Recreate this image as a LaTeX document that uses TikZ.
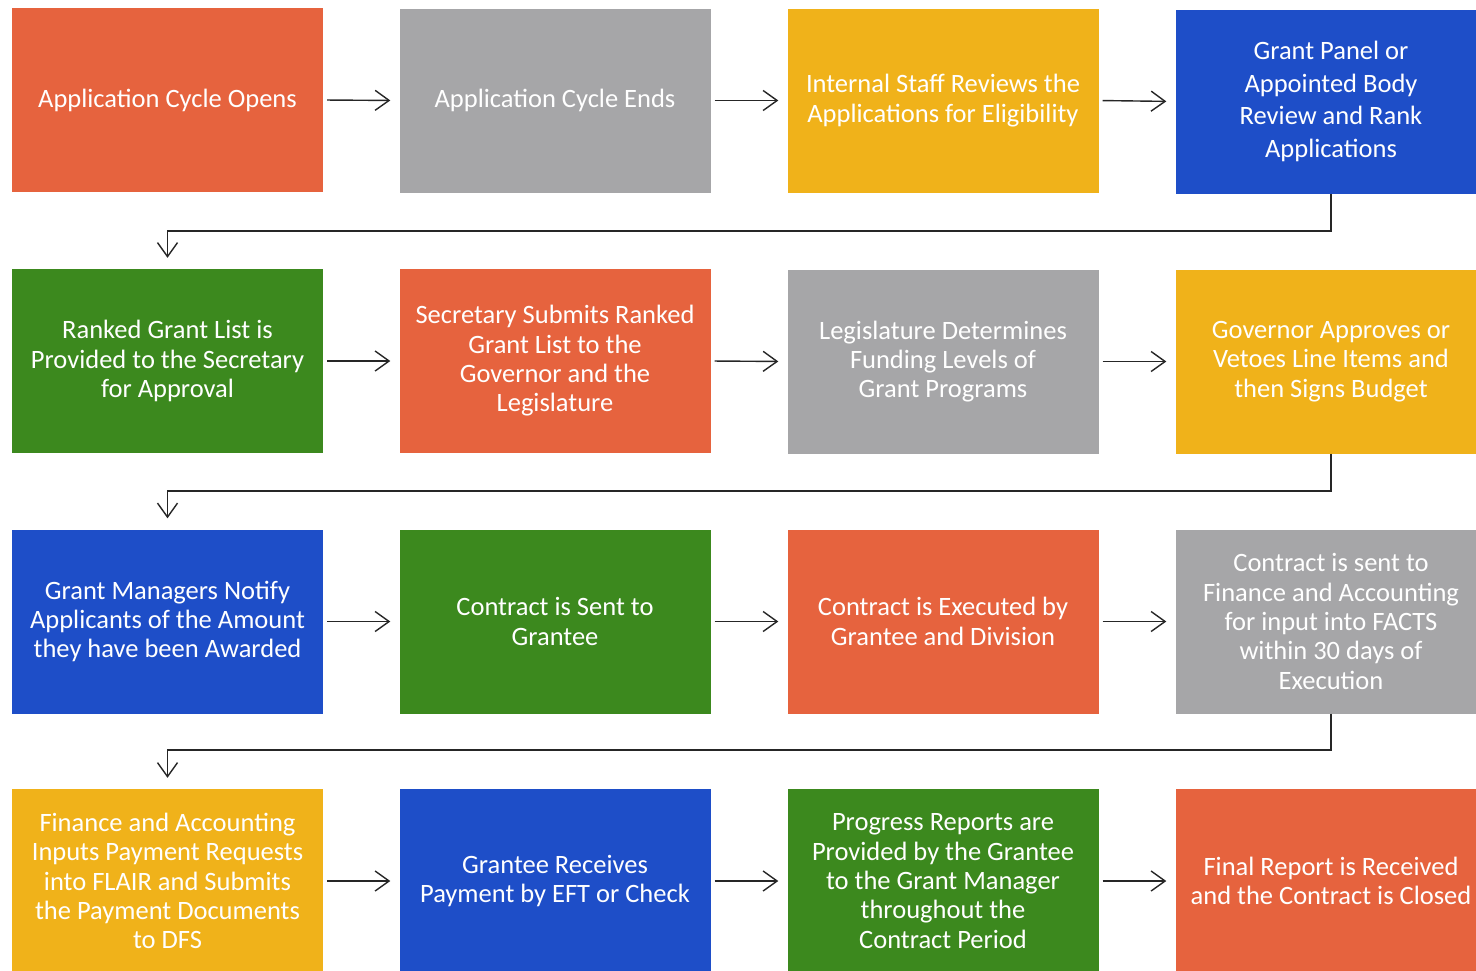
\documentclass[tikz,border=0pt]{standalone}
\usepackage{fontspec}
\setmainfont{Carlito}
\usetikzlibrary{arrows.meta}
\definecolor{cOrange}{RGB}{230,99,62}
\definecolor{cGray}{RGB}{166,166,168}
\definecolor{cGold}{RGB}{240,178,26}
\definecolor{cBlue}{RGB}{30,78,200}
\definecolor{cGreen}{RGB}{60,137,30}
\tikzset{
  box/.style={rectangle, minimum width=311pt, minimum height=184pt, inner sep=0pt,
    text=white, align=center, font=\fontsize{26.5}{29.3}\selectfont},
  arr/.style={draw=black!85, line width=1.4pt, -{Straight Barb[length=14pt,width=20pt,line width=1.4pt]},
    shorten <=4pt, shorten >=9pt},
  conn/.style={draw=black!85, line width=1.4pt, -{Straight Barb[length=14pt,width=20pt,line width=1.4pt]},
    shorten >=11pt}
}
\begin{document}
\begin{tikzpicture}[x=1pt,y=-1pt]
\useasboundingbox (0,0) rectangle (1476,970);
\clip (0,0) rectangle (1476,970);
\fill[white] (0,0) rectangle (1476,970);
% row 1
\node[box, fill=cOrange] (a1) at (167.5,100) {Application Cycle Opens};
\node[box, fill=cGray] (a2) at (555,100.5) {Application Cycle Ends};
\node[box, fill=cGold] (a3) at (943,100.5) {Internal Staff Reviews the\\Applications for Eligibility};
\node[box, fill=cBlue, font=\fontsize{26.5}{32.7}\selectfont] (a4) at (1331,101.5) {Grant Panel or\\Appointed Body\\Review and Rank\\Applications};
% row 2
\node[box, fill=cGreen] (b1) at (167.5,361) {Ranked Grant List is\\Provided to the Secretary\\for Approval};
\node[box, fill=cOrange] (b2) at (555,361) {Secretary Submits Ranked\\Grant List to the\\Governor and the\\Legislature};
\node[box, fill=cGray] (b3) at (943,361.5) {Legislature Determines\\Funding Levels of\\Grant Programs};
\node[box, fill=cGold] (b4) at (1331,361.5) {Governor Approves or\\Vetoes Line Items and\\then Signs Budget};
% row 3
\node[box, fill=cBlue] (c1) at (167.5,621.5) {Grant Managers Notify\\Applicants of the Amount\\they have been Awarded};
\node[box, fill=cGreen] (c2) at (555,621.5) {Contract is Sent to\\Grantee};
\node[box, fill=cOrange] (c3) at (943,621.5) {Contract is Executed by\\Grantee and Division};
\node[box, fill=cGray] (c4) at (1331,621.5) {Contract is sent to\\Finance and Accounting\\for input into FACTS\\within 30 days of\\Execution};
% row 4
\node[box, fill=cGold] (d1) at (167.5,881) {Finance and Accounting\\Inputs Payment Requests\\into FLAIR and Submits\\the Payment Documents\\to DFS};
\node[box, fill=cBlue] (d2) at (555,881) {Grantee Receives\\Payment by EFT or Check};
\node[box, fill=cGreen] (d3) at (943,881) {Progress Reports are\\Provided by the Grantee\\to the Grant Manager\\throughout the\\Contract Period};
\node[box, fill=cOrange] (d4) at (1331,881) {Final Report is Received\\and the Contract is Closed};
% horizontal arrows
\draw[arr] (a1.east) -- (a2.west);
\draw[arr] (a2.east) -- (a3.west);
\draw[arr] (a3.east) -- (a4.west);
\draw[arr] (b1.east) -- (b2.west);
\draw[arr] (b2.east) -- (b3.west);
\draw[arr] (b3.east) -- (b4.west);
\draw[arr] (c1.east) -- (c2.west);
\draw[arr] (c2.east) -- (c3.west);
\draw[arr] (c3.east) -- (c4.west);
\draw[arr] (d1.east) -- (d2.west);
\draw[arr] (d2.east) -- (d3.west);
\draw[arr] (d3.east) -- (d4.west);
% row connectors
\coordinate (k1) at (1331,231);
\coordinate (k2) at (1331,491);
\coordinate (k3) at (1331,750);
\draw[conn] (a4.south) -- (k1) -| (b1.north);
\draw[conn] (b4.south) -- (k2) -| (c1.north);
\draw[conn] (c4.south) -- (k3) -| (d1.north);
\end{tikzpicture}
\end{document}
